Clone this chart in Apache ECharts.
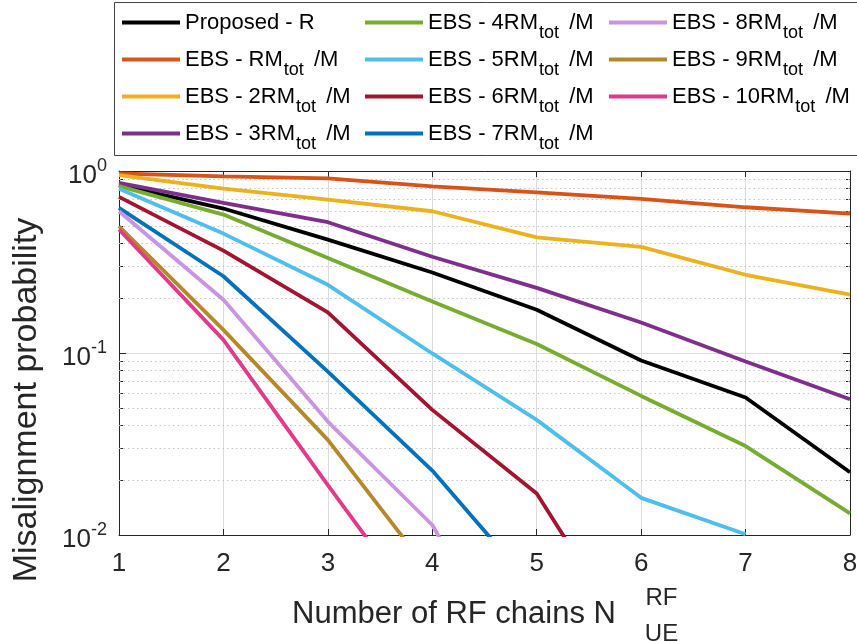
<!DOCTYPE html>
<html><head><meta charset="utf-8">
<script src="https://cdn.jsdelivr.net/npm/echarts@6/dist/echarts.min.js"></script>
<style>html,body{margin:0;padding:0;background:#fff}#c{width:857px;height:641px}</style>
</head><body><div id="c"></div>
<script>
const nValues = [1, 2, 3, 4, 5, 6, 7, 8];
const seriesNames = [
  'Proposed - R', 'EBS - RM_tot/M', 'EBS - 2RM_tot/M', 'EBS - 3RM_tot/M',
  'EBS - 4RM_tot/M', 'EBS - 5RM_tot/M', 'EBS - 6RM_tot/M', 'EBS - 7RM_tot/M',
  'EBS - 8RM_tot/M', 'EBS - 9RM_tot/M', 'EBS - 10RM_tot/M'
];
const seriesColors = ['#000000', '#D95319', '#EDB120', '#7E2F8E', '#77AC30', '#4DBEEE',
  '#A2142F', '#0072BD', '#C994E0', '#B5892A', '#E3398A'];
const proposed = [0.84, 0.622, 0.42, 0.277, 0.173, 0.091, 0.0569, 0.0221];
const ebs1 = [0.969, 0.935, 0.91, 0.824, 0.764, 0.703, 0.632, 0.583];
const ebs2 = [0.948, 0.80, 0.697, 0.601, 0.432, 0.383, 0.269, 0.209];
const ebs3 = [0.861, 0.668, 0.523, 0.338, 0.228, 0.147, 0.0898, 0.0557];
const ebs4 = [0.825, 0.576, 0.333, 0.192, 0.112, 0.0581, 0.0308, 0.01315];
const ebs5 = [0.798, 0.453, 0.237, 0.0994, 0.0429, 0.016, 0.0101, null];
const ebs6 = [0.721, 0.365, 0.167, 0.0487, 0.0169, 0.0021, null, null];
const ebs7 = [0.627, 0.264, 0.079, 0.0226, 0.0049, null, null, null];
const ebs8 = [0.601, 0.196, 0.042, 0.01135, 0.0011, null, null, null];
const ebs9 = [0.497, 0.134, 0.0333, 0.006, null, null, null, null];
const ebs10 = [0.477, 0.118, 0.0188, 0.0031, null, null, null, null];
const seriesValues = [proposed, ebs1, ebs2, ebs3, ebs4, ebs5, ebs6, ebs7, ebs8, ebs9, ebs10];
const minorTicks = [0.02, 0.03, 0.04, 0.05, 0.06, 0.07, 0.08, 0.09, 0.2, 0.3, 0.4, 0.5, 0.6, 0.7, 0.8, 0.9];
const yMin = 0.01, yMax = 1;
const xLabel = 'Number of RF chains N';
const xSup = 'RF', xSub = 'UE';
const yLabel = 'Misalignment probability';

const FONT = 'Liberation Sans';
const TXT = '#262626';

const legendRich = {
  n: { fontSize: 22, lineHeight: 40, color: '#000', fontFamily: FONT },
  sub: { fontSize: 18, lineHeight: 40, verticalAlign: 'top', padding: [22, 4, 0, 1], color: '#000', fontFamily: FONT }
};
function legendFmt(name) {
  const p = name.split('_tot');
  if (p.length < 2) return '{n|' + name + '}';
  return '{n|' + p[0] + '}{sub|tot}{n| ' + p[1] + '}';
}
function mkLegend(names, left) {
  return {
    data: names, left: left, top: 2.5, orient: 'vertical', padding: 0,
    itemWidth: 58, itemHeight: 4, itemGap: -3, icon: 'rect', selectedMode: false,
    formatter: legendFmt,
    textStyle: { fontFamily: FONT, fontSize: 22, color: '#000', backgroundColor: 'rgba(255,255,255,0)', rich: legendRich }
  };
}

const series = [{
  type: 'line', name: '__grid', data: [], z: 1, silent: true,
  markLine: {
    silent: true, z: 1, symbol: ['none', 'none'], label: { show: false }, animation: false,
    lineStyle: { color: '#c4c4c4', type: [1.5, 3], width: 1 },
    emphasis: { disabled: true },
    data: minorTicks.map(v => ({ yAxis: v }))
  }
}];
seriesValues.forEach((vals, i) => {
  series.push({
    type: 'line', name: seriesNames[i],
    data: nValues.map((x, j) => [x, vals[j]]),
    symbol: 'none', showSymbol: false, z: 3,
    color: seriesColors[i],
    lineStyle: { width: 3.8, color: seriesColors[i] },
    itemStyle: { color: seriesColors[i] },
    emphasis: { disabled: true }
  });
});

const yBase = { type: 'log', logBase: 10, min: yMin, max: yMax, gridIndex: 0 };

const option = {
  animation: false,
  textStyle: { fontFamily: FONT },
  graphic: [{
    type: 'rect', silent: true, z: 0,
    shape: { x: 114.5, y: 2.5, width: 760, height: 153 },
    style: { fill: '#fff', stroke: '#444', lineWidth: 1 }
  }],
  legend: [
    mkLegend(seriesNames.slice(0, 4), 122),
    mkLegend(seriesNames.slice(4, 8), 365),
    mkLegend(seriesNames.slice(8), 609)
  ],
  grid: { left: 119, right: 7, top: 171, bottom: 106, containLabel: false, outerBoundsMode: 'none' },
  xAxis: [{
    type: 'value', min: 1, max: 8, interval: 1, position: 'bottom',
    axisLine: { show: true, lineStyle: { color: TXT, width: 1 } },
    axisTick: { show: true, inside: true, length: 6, lineStyle: { color: TXT } },
    axisLabel: { color: TXT, fontSize: 26, margin: 16, fontFamily: FONT },
    splitLine: { show: true, lineStyle: { color: '#dcdcdc', width: 1 } },
    name: '{a|' + xLabel + '}{s|' + xSup + '}\n{u|' + xSub + '}',
    nameLocation: 'middle', nameGap: 51.5, nameMoveOverlap: false,
    nameTextStyle: {
      color: TXT, fontFamily: FONT,
      rich: {
        a: { fontSize: 31, lineHeight: 43, verticalAlign: 'bottom', width: 325, color: TXT, fontFamily: FONT },
        s: { fontSize: 24, lineHeight: 43, verticalAlign: 'top', padding: [0, 0, 0, 29], color: TXT, fontFamily: FONT },
        u: { fontSize: 24, lineHeight: 9, padding: [0, 0, 0, 354], color: TXT, fontFamily: FONT }
      }
    }
  }, {
    type: 'value', min: 1, max: 8, interval: 1, position: 'top',
    axisLine: { show: true, lineStyle: { color: TXT, width: 1 } },
    axisTick: { show: true, inside: true, length: 6, lineStyle: { color: TXT } },
    axisLabel: { show: false }, splitLine: { show: false }
  }],
  yAxis: [Object.assign({}, yBase, {
    position: 'left',
    axisLine: { show: true, lineStyle: { color: TXT, width: 1 } },
    axisTick: { show: true, inside: true, length: 7, lineStyle: { color: TXT } },
    axisLabel: {
      margin: 12, color: TXT,
      formatter: v => '{b|10}{s|' + Math.round(Math.log10(v)) + '}',
      rich: {
        b: { fontSize: 26, lineHeight: 36, verticalAlign: 'bottom', color: TXT, fontFamily: FONT },
        s: { fontSize: 18, lineHeight: 36, verticalAlign: 'top', padding: [4, 0, 0, 0], color: TXT, fontFamily: FONT }
      }
    },
    splitLine: { show: false },
    name: yLabel, nameLocation: 'middle', nameGap: 75.5, nameMoveOverlap: false,
    nameTextStyle: { color: TXT, fontSize: 34, fontFamily: FONT, padding: [0, 94, 0, 0] }
  }), Object.assign({}, yBase, {
    position: 'left',
    axisLine: { show: false },
    axisTick: { show: true, inside: true, length: 4, customValues: minorTicks, lineStyle: { color: TXT } },
    axisLabel: { show: false }, splitLine: { show: false }
  }), Object.assign({}, yBase, {
    position: 'right',
    axisLine: { show: true, lineStyle: { color: TXT, width: 1 } },
    axisTick: { show: true, inside: true, length: 7, lineStyle: { color: TXT } },
    axisLabel: { show: false },
    splitLine: { show: true, lineStyle: { color: '#dcdcdc', width: 1 } }
  }), Object.assign({}, yBase, {
    position: 'right',
    axisLine: { show: false },
    axisTick: { show: true, inside: true, length: 4, customValues: minorTicks, lineStyle: { color: TXT } },
    axisLabel: { show: false }, splitLine: { show: false }
  })],
  series: series
};
const chart = echarts.init(document.getElementById('c'), null, { renderer: 'canvas' });
chart.setOption(option);
</script>
</body></html>
